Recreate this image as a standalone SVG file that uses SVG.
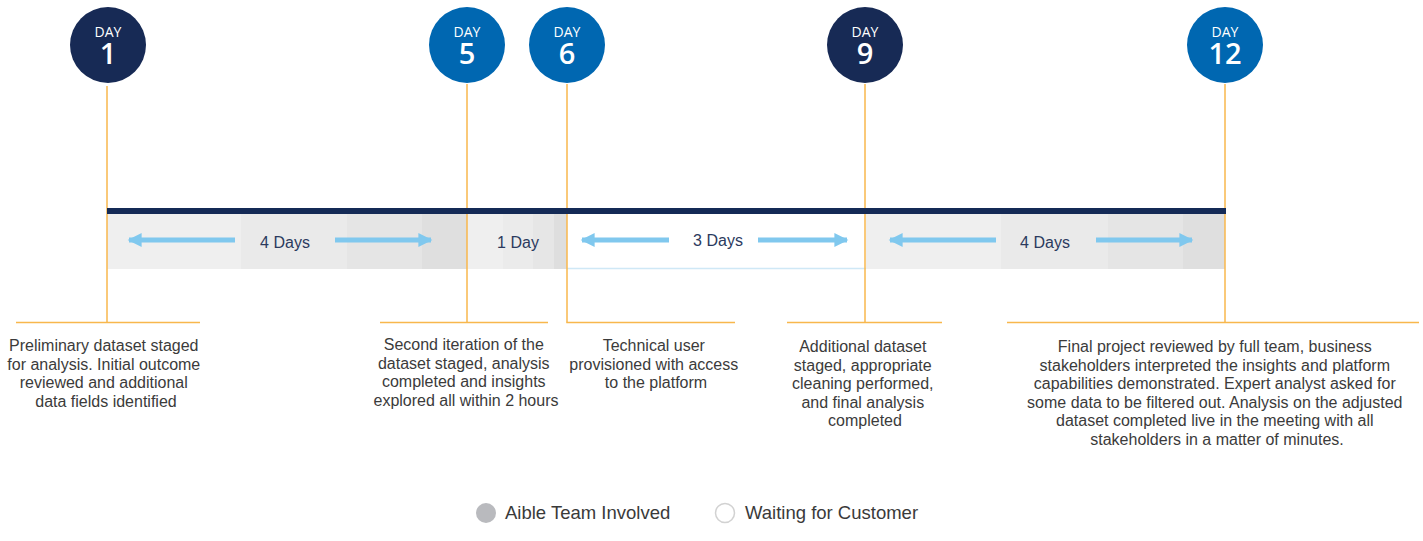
<svg xmlns="http://www.w3.org/2000/svg" width="1423" height="541" viewBox="0 0 1423 541">
  <defs>
    <marker id="head" viewBox="0 0 10 10" refX="9" refY="5" markerWidth="3" markerHeight="2.8" markerUnits="strokeWidth" orient="auto-start-reverse">
      <path d="M0,0 L10,5 L0,10 Z" fill="#80c8ee"/>
    </marker>
    <style>
      .badge-dark { fill: #172a55; }
      .badge-blue { fill: #0067b1; }
      .badge-label { font-family: "Open Sans", "Liberation Sans", sans-serif; fill: #ffffff; text-anchor: middle; }
      .day-word { font-size: 14px; font-weight: 400; }
      .day-num { font-size: 29px; font-weight: 600; }
      .leader { stroke: #f8b74c; stroke-width: 1.5; fill: none; }
      .desc { font-family: "Liberation Sans", Arial, sans-serif; font-size: 16px; fill: #3b3b3b; text-anchor: middle; }
      .span-label { font-family: "Liberation Sans", Arial, sans-serif; font-size: 16px; fill: #2b3a5e; text-anchor: middle; }
      .arrow { stroke: #80c8ee; stroke-width: 5; fill: none; marker-end: url(#head); }
      .legend { font-family: "Liberation Sans", Arial, sans-serif; font-size: 18.5px; fill: #3a3a3a; }
    </style>
  </defs>

  <!-- duration band under the timeline -->
  <g id="duration-band">
    <rect x="107" y="214" width="134" height="55" fill="#efefef"/>
    <rect x="241" y="214" width="106" height="55" fill="#eaeaea"/>
    <rect x="347" y="214" width="75" height="55" fill="#e5e5e5"/>
    <rect x="422" y="214" width="45" height="55" fill="#dfdfdf"/>

    <rect x="467" y="214" width="36" height="55" fill="#efefef"/>
    <rect x="503" y="214" width="30" height="55" fill="#ebebeb"/>
    <rect x="533" y="214" width="21" height="55" fill="#e6e6e6"/>
    <rect x="554" y="214" width="13" height="55" fill="#dedede"/>

    <rect x="567" y="214" width="299" height="54" fill="#ffffff"/>
    <line x1="567" y1="268.5" x2="866" y2="268.5" stroke="#cfe8f6" stroke-width="1.5"/>

    <rect x="866" y="214" width="135" height="55" fill="#efefef"/>
    <rect x="1001" y="214" width="107" height="55" fill="#eaeaea"/>
    <rect x="1108" y="214" width="75" height="55" fill="#e5e5e5"/>
    <rect x="1183" y="214" width="42" height="55" fill="#dfdfdf"/>
  </g>

  <!-- duration arrows and labels -->
  <g id="durations">
    <line class="arrow" x1="235" y1="240" x2="129" y2="240"/>
    <line class="arrow" x1="335" y1="240" x2="431" y2="240"/>
    <text class="span-label" x="285" y="248">4 Days</text>

    <text class="span-label" x="518" y="248">1 Day</text>

    <line class="arrow" x1="669" y1="240" x2="582" y2="240"/>
    <line class="arrow" x1="758" y1="240" x2="847" y2="240"/>
    <text class="span-label" x="718" y="246">3 Days</text>

    <line class="arrow" x1="996" y1="240" x2="890" y2="240"/>
    <line class="arrow" x1="1096" y1="240" x2="1192" y2="240"/>
    <text class="span-label" x="1045" y="248">4 Days</text>
  </g>

  <!-- connectors: leader lines from each day badge to its note, and the timeline bar -->
  <g id="connectors">
    <line class="leader" x1="107" y1="86" x2="107" y2="322.5"/>
    <line class="leader" x1="16" y1="322.5" x2="200" y2="322.5"/>

    <line class="leader" x1="467" y1="84" x2="467" y2="322.5"/>
    <line class="leader" x1="380" y1="322.5" x2="548" y2="322.5"/>

    <line class="leader" x1="567" y1="84" x2="567" y2="322.5"/>
    <line class="leader" x1="566.3" y1="322.5" x2="735" y2="322.5"/>

    <line class="leader" x1="865" y1="84" x2="865" y2="322.5"/>
    <line class="leader" x1="787" y1="322.5" x2="942" y2="322.5"/>

    <line class="leader" x1="1225" y1="84" x2="1225" y2="322.5"/>
    <line class="leader" x1="1007" y1="322.5" x2="1419" y2="322.5"/>

    <rect id="timeline-bar" x="107" y="208" width="1119" height="6" fill="#142a56"/>
  </g>

  <g id="day-1">
    <circle class="badge-dark" cx="108" cy="45" r="38"/>
    <text class="badge-label" x="108" y="37"><tspan class="day-word" x="108">DAY</tspan><tspan class="day-num" x="108" y="64">1</tspan></text>
    <text class="desc" x="106" y="351">
      <tspan x="106">Preliminary dataset staged</tspan>
      <tspan x="106" dy="18.5">for analysis. Initial outcome</tspan>
      <tspan x="106" dy="18.5">reviewed and additional</tspan>
      <tspan x="106" dy="18.5">data fields identified</tspan>
    </text>
  </g>

  <g id="day-5">
    <circle class="badge-blue" cx="467" cy="45" r="38"/>
    <text class="badge-label" x="467" y="37"><tspan class="day-word" x="467">DAY</tspan><tspan class="day-num" x="467" y="64">5</tspan></text>
    <text class="desc" x="466" y="350">
      <tspan x="466">Second iteration of the</tspan>
      <tspan x="466" dy="18.5">dataset staged, analysis</tspan>
      <tspan x="466" dy="18.5">completed and insights</tspan>
      <tspan x="466" dy="18.5">explored all within 2 hours</tspan>
    </text>
  </g>

  <g id="day-6">
    <circle class="badge-blue" cx="567" cy="45" r="38"/>
    <text class="badge-label" x="567" y="37"><tspan class="day-word" x="567">DAY</tspan><tspan class="day-num" x="567" y="64">6</tspan></text>
    <text class="desc" x="656" y="351">
      <tspan x="656">Technical user</tspan>
      <tspan x="656" dy="18.5">provisioned with access</tspan>
      <tspan x="656" dy="18.5">to the platform</tspan>
    </text>
  </g>

  <g id="day-9">
    <circle class="badge-dark" cx="865" cy="45" r="38"/>
    <text class="badge-label" x="865" y="37"><tspan class="day-word" x="865">DAY</tspan><tspan class="day-num" x="865" y="64">9</tspan></text>
    <text class="desc" x="865" y="352">
      <tspan x="865">Additional dataset</tspan>
      <tspan x="865" dy="18.5">staged, appropriate</tspan>
      <tspan x="865" dy="18.5">cleaning performed,</tspan>
      <tspan x="865" dy="18.5">and final analysis</tspan>
      <tspan x="865" dy="18.5">completed</tspan>
    </text>
  </g>

  <g id="day-12">
    <circle class="badge-blue" cx="1225" cy="45" r="38"/>
    <text class="badge-label" x="1225" y="37"><tspan class="day-word" x="1225">DAY</tspan><tspan class="day-num" x="1225" y="64">12</tspan></text>
    <text class="desc" x="1217" y="352">
      <tspan x="1217">Final project reviewed by full team, business</tspan>
      <tspan x="1217" dy="18.5">stakeholders interpreted the insights and platform</tspan>
      <tspan x="1217" dy="18.5">capabilities demonstrated. Expert analyst asked for</tspan>
      <tspan x="1217" dy="18.5">some data to be filtered out. Analysis on the adjusted</tspan>
      <tspan x="1217" dy="18.5">dataset completed live in the meeting with all</tspan>
      <tspan x="1217" dy="18.5">stakeholders in a matter of minutes.</tspan>
    </text>
  </g>

  <g id="legend">
    <circle cx="486" cy="513" r="10" fill="#b9babe"/>
    <text class="legend" x="505" y="519">Aible Team Involved</text>
    <circle cx="725" cy="513" r="9.5" fill="#ffffff" stroke="#d2d2d2" stroke-width="1.5"/>
    <text class="legend" x="745" y="519">Waiting for Customer</text>
  </g>
</svg>
